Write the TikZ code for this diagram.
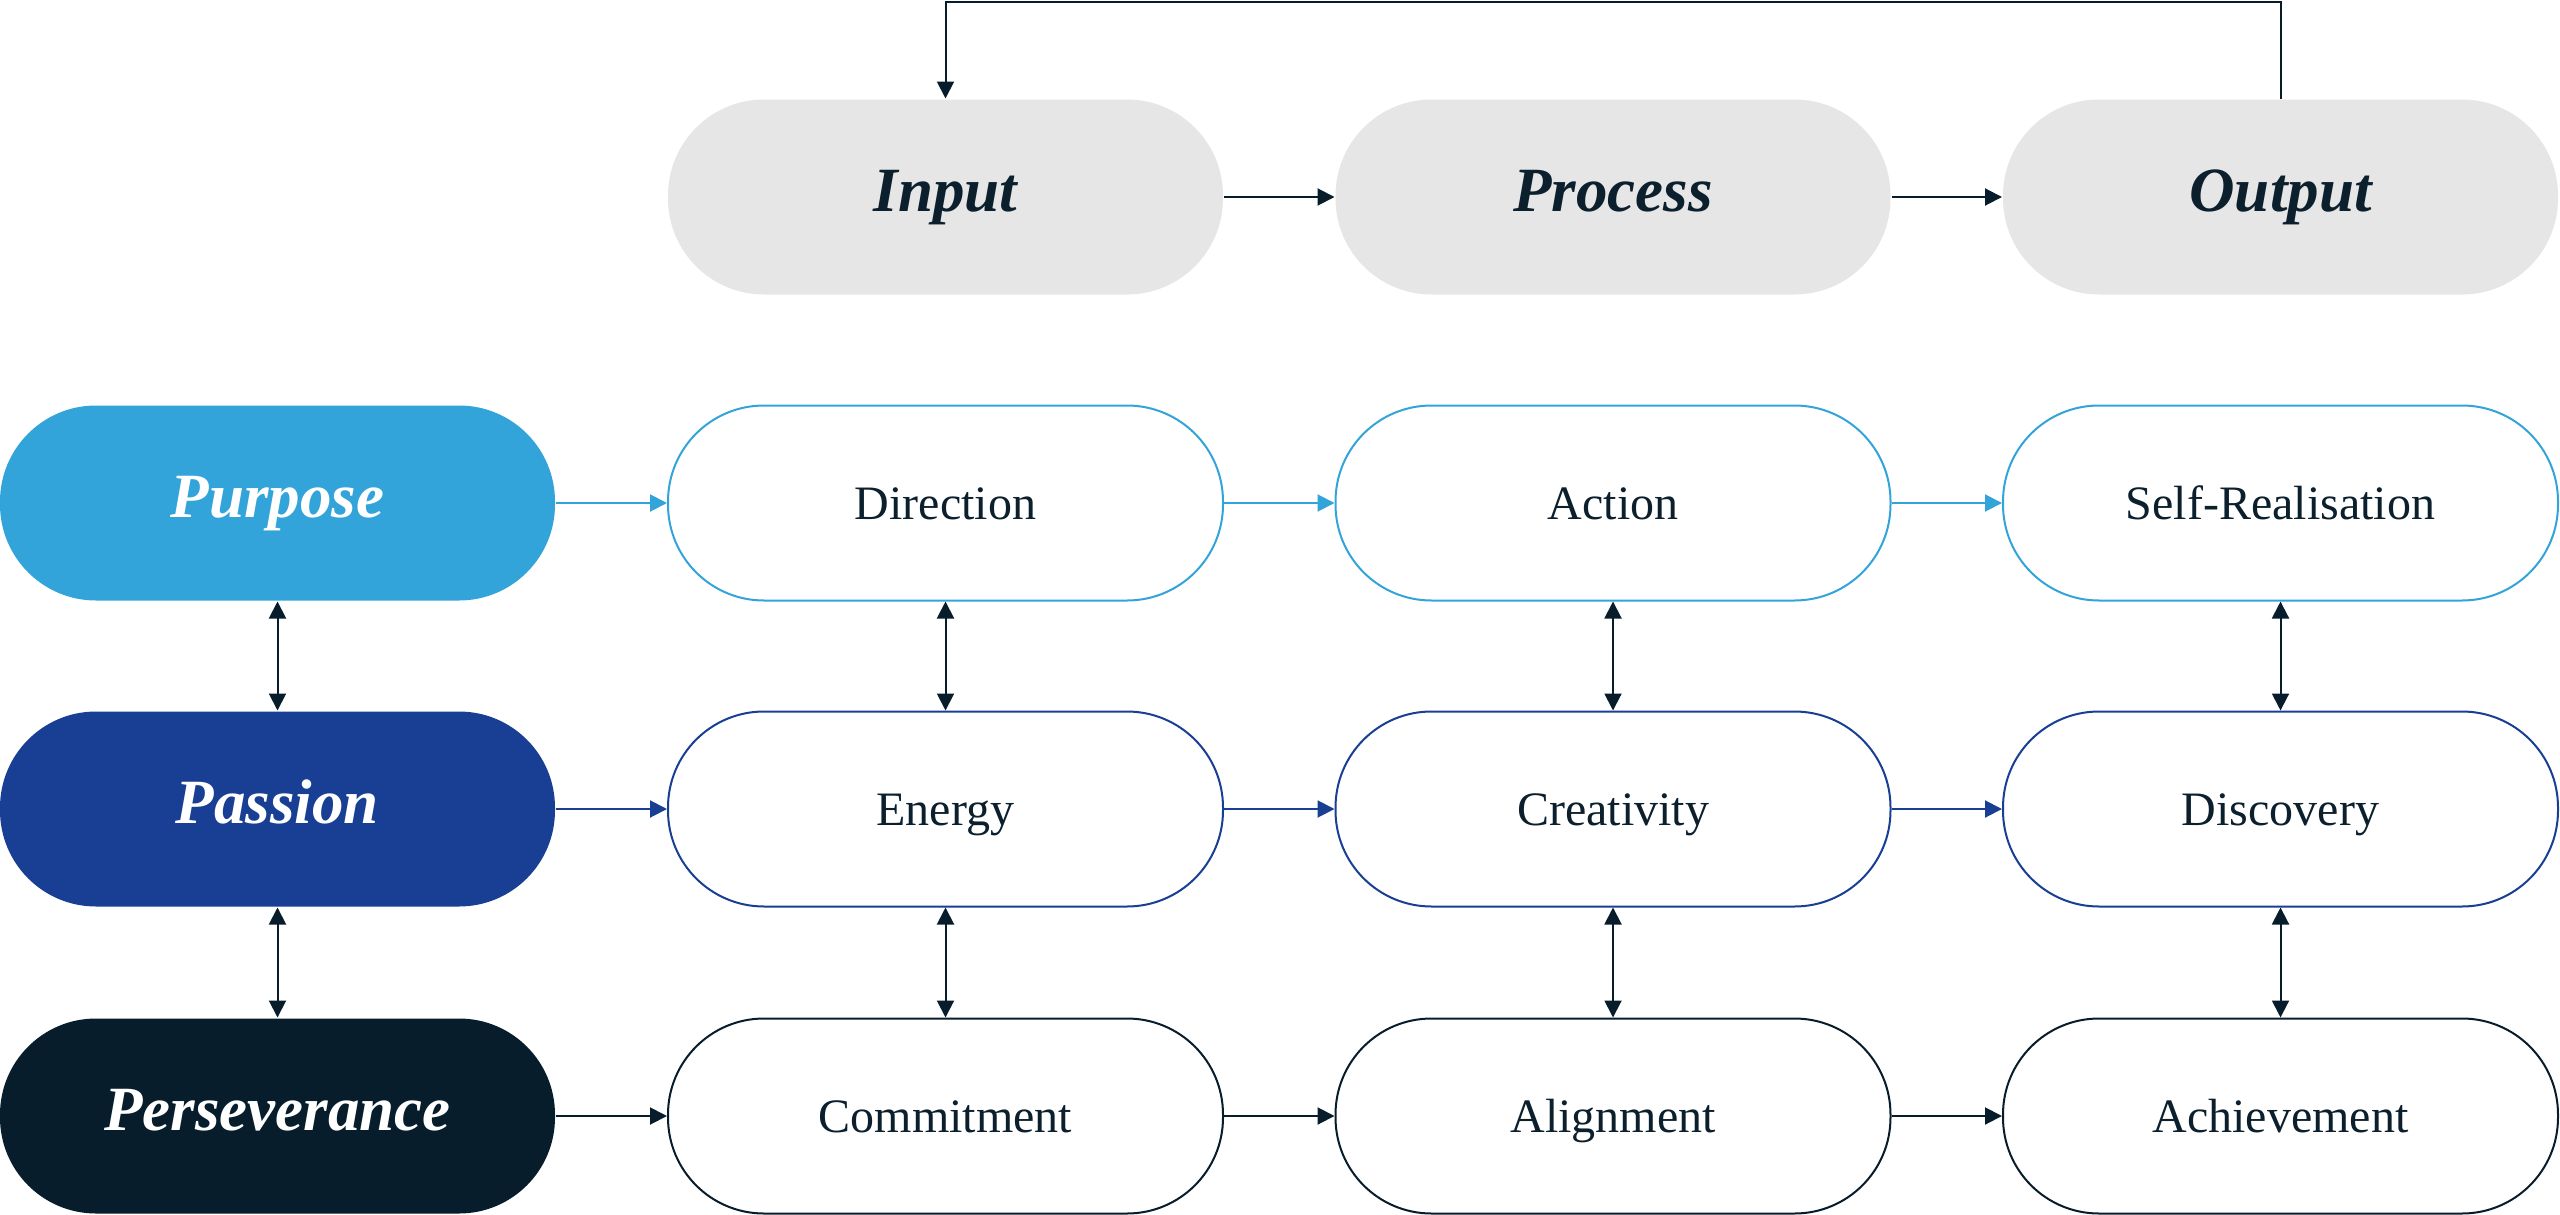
\documentclass[tikz,border=0pt]{standalone}
\usepackage{fontspec}
\setmainfont{Liberation Serif}
\usetikzlibrary{arrows.meta}
\definecolor{cPurpose}{HTML}{33A4DA}
\definecolor{cPassion}{HTML}{183F93}
\definecolor{cNavy}{HTML}{081D2B}
\definecolor{cText}{HTML}{0B1F2D}
\definecolor{cGray}{HTML}{E6E6E6}
\begin{document}
\begin{tikzpicture}[x=0.5pt,y=-0.5pt,
  pill/.style={rounded corners=48pt, minimum width=277.5pt, minimum height=97.5pt, inner sep=0pt, line width=1pt},
  headtxt/.style={font=\fontsize{31.5pt}{36pt}\selectfont\bfseries\itshape, text height=21pt, text depth=7pt},
  celltxt/.style={font=\fontsize{24pt}{28pt}\selectfont, text=cText, text height=16pt, text depth=0pt},
  graybox/.style={pill, fill=cGray, headtxt, text=cText},
  leftbox/.style={pill, fill=#1, headtxt, text=white},
  cellbox/.style={pill, draw=#1, fill=white, celltxt},
  arr/.style={line width=1pt, draw=#1, -{Triangle[length=8.5pt,width=8.5pt]}},
  darr/.style={line width=1pt, draw=cNavy, {Triangle[length=8.5pt,width=8.5pt]}-{Triangle[length=8.5pt,width=8.5pt]}},
]
\useasboundingbox (0,0) rectangle (2560,1215);

% top row
\node[graybox] (in)  at (945.5,197) {Input};
\node[graybox] (pro) at (1613,197) {Process};
\node[graybox] (out) at (2280.5,197) {Output};

% row 1
\node[leftbox=cPurpose] (pur) at (277.5,503) {Purpose};
\node[cellbox=cPurpose] (dir) at (945.5,503) {Direction};
\node[cellbox=cPurpose] (act) at (1613,503) {Action};
\node[cellbox=cPurpose] (self) at (2280.5,503) {Self-Realisation};

% row 2
\node[leftbox=cPassion] (pas) at (277.5,809) {Passion};
\node[cellbox=cPassion] (ene) at (945.5,809) {Energy};
\node[cellbox=cPassion] (cre) at (1613,809) {Creativity};
\node[cellbox=cPassion] (dis) at (2280.5,809) {Discovery};

% row 3
\node[leftbox=cNavy] (per) at (277.5,1116) {Perseverance};
\node[cellbox=cNavy] (com) at (945.5,1116) {Commitment};
\node[cellbox=cNavy] (ali) at (1613,1116) {Alignment};
\node[cellbox=cNavy] (ach) at (2280.5,1116) {Achievement};

% feedback loop
\coordinate (fbR) at (2280.5,1.5);
\coordinate (fbL) at (945.5,1.5);
\draw[arr=cNavy] (out.north) -- (fbR) -- (fbL) -- (in.north);

% horizontal arrows
\draw[arr=cNavy] (in) -- (pro);
\draw[arr=cNavy] (pro) -- (out);
\draw[arr=cPurpose] (pur) -- (dir);
\draw[arr=cPurpose] (dir) -- (act);
\draw[arr=cPurpose] (act) -- (self);
\draw[arr=cPassion] (pas) -- (ene);
\draw[arr=cPassion] (ene) -- (cre);
\draw[arr=cPassion] (cre) -- (dis);
\draw[arr=cNavy] (per) -- (com);
\draw[arr=cNavy] (com) -- (ali);
\draw[arr=cNavy] (ali) -- (ach);

% vertical double arrows
\draw[darr] (pur) -- (pas);
\draw[darr] (pas) -- (per);
\draw[darr] (dir) -- (ene);
\draw[darr] (ene) -- (com);
\draw[darr] (act) -- (cre);
\draw[darr] (cre) -- (ali);
\draw[darr] (self) -- (dis);
\draw[darr] (dis) -- (ach);
\end{tikzpicture}
\end{document}
